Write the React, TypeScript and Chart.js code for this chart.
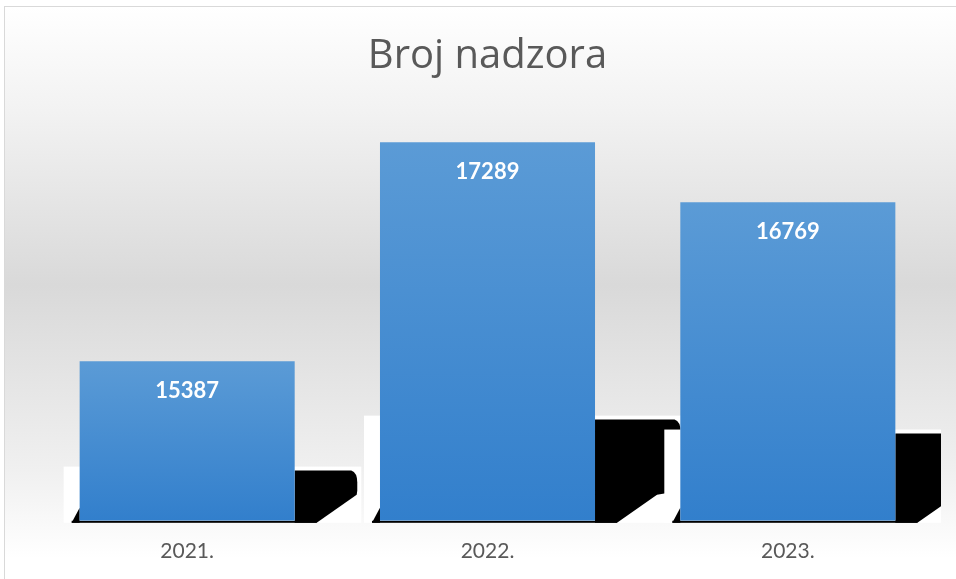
import React, { useEffect, useRef } from "react";
import { Chart, registerables } from "chart.js";

Chart.register(...registerables);

const categories = ["2021.", "2022.", "2023."];
const values = [15387, 17289, 16769];
const yMin = 14000;
const yMax = 17700;
const chartTitle = "Broj nadzora";

const shadowPlugin = {
  id: "excelShadow",
  beforeDatasetsDraw(chart: any) {
    const meta = chart.getDatasetMeta(0);
    const ctx = chart.ctx;
    const area = chart.chartArea;
    const clipR = area.right + 3;
    const base = chart.scales.y.getPixelForValue(yMin);
    ctx.save();
    ctx.beginPath();
    ctx.rect(0, 0, clipR, chart.height);
    ctx.clip();
    meta.data.forEach((bar: any) => {
      const x = bar.x;
      const y = bar.y;
      const width = bar.width;
      const L = x - width / 2;
      const R = x + width / 2;
      const h = base - y;
      const wTop = base - (17 + 0.233 * h);
      const bTop = wTop + 4;
      const bh = base - bTop;
      const W = 40 + 0.45 * bh;
      ctx.fillStyle = "#ffffff";
      ctx.fillRect(L - 16, wTop, R + W + 4 - (L - 16), base + 2 - wTop);
      ctx.fillStyle = "#000000";
      ctx.beginPath();
      ctx.moveTo(R, bTop);
      ctx.lineTo(R + W - 6, bTop);
      ctx.quadraticCurveTo(R + W, bTop + 2, R + W, bTop + 12);
      ctx.lineTo(R + W, base - 30);
      ctx.lineTo(R + 62, base - 26);
      ctx.lineTo(R + 22, base + 2);
      ctx.lineTo(R, base + 2);
      ctx.closePath();
      ctx.fill();
      ctx.fillRect(L - 8, base, R + 22 - (L - 8), 2);
      ctx.beginPath();
      ctx.moveTo(L - 8, base + 2);
      ctx.lineTo(L, base - 13);
      ctx.lineTo(L, base + 2);
      ctx.closePath();
      ctx.fill();
    });
    ctx.restore();
  },
  afterDatasetsDraw(chart: any) {
    const meta = chart.getDatasetMeta(0);
    const ctx = chart.ctx;
    ctx.save();
    ctx.font = "bold 22px Lato";
    ctx.fillStyle = "#ffffff";
    ctx.textAlign = "center";
    ctx.textBaseline = "middle";
    meta.data.forEach((bar: any, i: number) => {
      ctx.fillText(String(values[i]), bar.x, bar.y + 30);
    });
    ctx.restore();
  },
};

export default function App() {
  const ref = useRef<HTMLCanvasElement>(null);

  useEffect(() => {
    if (!ref.current) return;
    const chart = new Chart(ref.current, {
      type: "bar",
      data: {
        labels: categories,
        datasets: [
          {
            data: values,
            base: yMin,
            borderWidth: 0,
            categoryPercentage: 1,
            barPercentage: 0.716,
            backgroundColor: (c: any) => {
              const ch = c.chart;
              const area = ch.chartArea;
              if (!area || c.dataIndex === undefined) return "#4a8fd2";
              const ys = ch.scales.y;
              const top = ys.getPixelForValue(values[c.dataIndex]);
              const bottom = ys.getPixelForValue(yMin);
              const g = ch.ctx.createLinearGradient(0, top, 0, bottom);
              g.addColorStop(0, "rgb(91,155,214)");
              g.addColorStop(1, "rgb(50,127,204)");
              return g;
            },
          },
        ],
      },
      options: {
        responsive: false,
        animation: false,
        devicePixelRatio: 1,
        layout: { padding: { left: 37, right: 18, top: 0, bottom: 11 } },
        plugins: {
          legend: { display: false },
          tooltip: { enabled: false },
          title: {
            display: true,
            text: chartTitle,
            color: "#595959",
            font: { family: "'Open Sans'", size: 40, weight: "normal" },
            padding: { top: 33, bottom: 14 },
          },
        },
        scales: {
          x: {
            grid: { display: false, drawTicks: true, tickLength: 14 },
            border: { display: false },
            ticks: {
              color: "#595959",
              font: { family: "Lato", size: 21 },
              padding: 4,
            },
          },
          y: {
            display: false,
            min: yMin,
            max: yMax,
          },
        },
      },
      plugins: [shadowPlugin],
    });
    return () => chart.destroy();
  }, []);

  return (
    <div
      style={{
        position: "fixed",
        left: 0,
        top: 0,
        width: 956,
        height: 579,
        overflow: "hidden",
        background: "#ffffff",
      }}
    >
      <div
        style={{
          position: "absolute",
          left: 4,
          top: 6,
          width: 960,
          height: 580,
          border: "1px solid #d9d9d9",
          background:
            "linear-gradient(to bottom, #ffffff 0%, #f2f2f2 18%, #d9d9d9 48%, #f0f0f0 80%, #ffffff 95%)",
        }}
      />
      <canvas
        ref={ref}
        width={956}
        height={579}
        style={{ position: "absolute", left: 0, top: 0 }}
      />
    </div>
  );
}
